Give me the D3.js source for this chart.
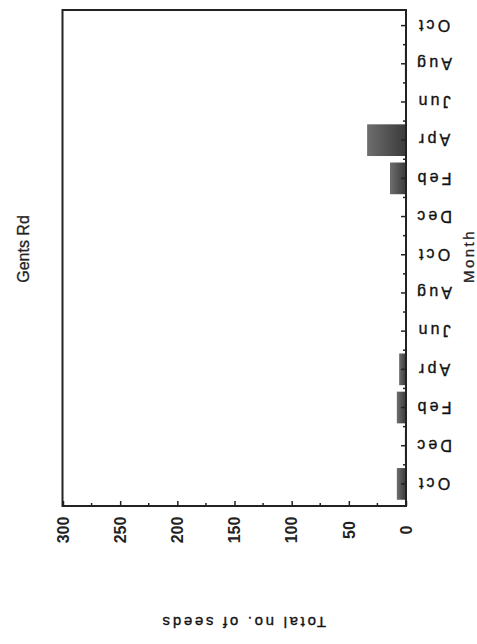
<!DOCTYPE html>
<html>
<head>
<meta charset="utf-8">
<script src="https://cdn.jsdelivr.net/npm/d3@7"></script>
<style>
  body { margin: 0; background: #fff; }
  svg { display: block; font-family: "Liberation Sans", Arial, sans-serif; }
</style>
</head>
<body>
<svg id="chart"></svg>
<script>
// months along the (rotated) x axis, first one at the bottom
const months = ["Oct", "Dec", "Feb", "Apr", "Jun", "Aug", "Oct", "Dec", "Feb", "Apr", "Jun", "Aug", "Oct"];
const seeds = [8, 1, 8, 6, 0, 0, 0, 0, 14, 34, 0, 1, 0];
const valueTicks = [0, 50, 100, 150, 200, 250, 300];
const minorTicks = [25, 75, 125, 175, 225, 275];

const width = 477, height = 644;
const frame = { left: 62.5, right: 406, top: 10, bottom: 506 };

const svg = d3.select("#chart")
  .attr("width", width)
  .attr("height", height);

const defs = svg.append("defs");
const grad = defs.append("linearGradient").attr("id", "barFill");
grad.append("stop").attr("offset", "0%").attr("stop-color", "#6e6e6e");
grad.append("stop").attr("offset", "100%").attr("stop-color", "#3a3a3a");

// value scale runs right-to-left, month bands bottom-to-top
const x = d3.scaleLinear().domain([0, 300]).range([frame.right, 63]);
const y = d3.scaleBand()
  .domain(d3.range(months.length))
  .range([503, 6.5])
  .paddingInner(0.17)
  .paddingOuter(0.085);

// bars
svg.append("g")
  .selectAll("rect")
  .data(seeds)
  .join("rect")
  .attr("x", d => x(d))
  .attr("y", (d, i) => y(i))
  .attr("width", d => x(0) - x(d))
  .attr("height", y.bandwidth())
  .attr("fill", "url(#barFill)");

// frame
svg.append("rect")
  .attr("x", frame.left)
  .attr("y", frame.top)
  .attr("width", frame.right - frame.left)
  .attr("height", frame.bottom - frame.top)
  .attr("fill", "none")
  .attr("stroke", "#222")
  .attr("stroke-width", 2);

// month axis on the right, ticks pointing inward
const monthAxis = svg.append("g")
  .attr("transform", `translate(${frame.right},0)`)
  .call(d3.axisRight(y).tickSize(-5).tickFormat(""));
monthAxis.select(".domain").remove();
monthAxis.selectAll("line").attr("stroke", "#222").attr("stroke-width", 1.5);

monthAxis.selectAll(".minor")
  .data(d3.range(months.length - 1))
  .join("line")
  .attr("class", "minor")
  .attr("x1", 0)
  .attr("x2", -3)
  .attr("y1", i => y(i) - y.step() * y.paddingInner() / 2)
  .attr("y2", i => y(i) - y.step() * y.paddingInner() / 2)
  .attr("stroke", "#222")
  .attr("stroke-width", 1.5);

svg.append("g")
  .selectAll("text")
  .data(months)
  .join("text")
  .attr("transform", (d, i) => `translate(433,${y(i) + y.bandwidth() / 2}) rotate(180)`)
  .attr("text-anchor", "middle")
  .attr("dy", "0.36em")
  .attr("font-size", 16)
  .attr("letter-spacing", 3.2)
  .attr("fill", "#111")
  .attr("stroke", "#111")
  .attr("stroke-width", 0.35)
  .text(d => d);

// value axis along the bottom
const valueAxis = svg.append("g")
  .attr("transform", `translate(0,${frame.bottom})`)
  .call(d3.axisBottom(x).tickValues(valueTicks).tickSize(-5).tickFormat(""));
valueAxis.select(".domain").remove();
valueAxis.selectAll("line").attr("stroke", "#222").attr("stroke-width", 1.5);

valueAxis.selectAll(".minor")
  .data(minorTicks)
  .join("line")
  .attr("class", "minor")
  .attr("x1", d => x(d))
  .attr("x2", d => x(d))
  .attr("y1", 0)
  .attr("y2", -3)
  .attr("stroke", "#222")
  .attr("stroke-width", 1.5);

svg.append("g")
  .selectAll("text")
  .data(valueTicks)
  .join("text")
  .attr("transform", d => `translate(${x(d)},530) rotate(-90)`)
  .attr("text-anchor", "middle")
  .attr("dy", "0.36em")
  .attr("font-size", 16)
  .attr("font-weight", "bold")
  .attr("fill", "#222")
  .text(d => d);

// titles
svg.append("text")
  .attr("transform", "translate(23,249) rotate(-90)")
  .attr("text-anchor", "middle")
  .attr("dy", "0.36em")
  .attr("font-size", 16)
  .attr("fill", "#222")
  .attr("stroke", "#222")
  .attr("stroke-width", 0.3)
  .text("Gents Rd");

svg.append("text")
  .attr("transform", "translate(469,256) rotate(-90)")
  .attr("text-anchor", "middle")
  .attr("dy", "0.36em")
  .attr("font-size", 15)
  .attr("letter-spacing", 2.5)
  .attr("fill", "#222")
  .attr("stroke", "#222")
  .attr("stroke-width", 0.3)
  .text("Month");

svg.append("text")
  .attr("transform", "translate(243,622) rotate(180)")
  .attr("text-anchor", "middle")
  .attr("dy", "0.36em")
  .attr("font-size", 15)
  .attr("letter-spacing", 2.7)
  .attr("fill", "#111")
  .attr("stroke", "#111")
  .attr("stroke-width", 0.35)
  .text("Total no. of seeds");
</script>
</body>
</html>
